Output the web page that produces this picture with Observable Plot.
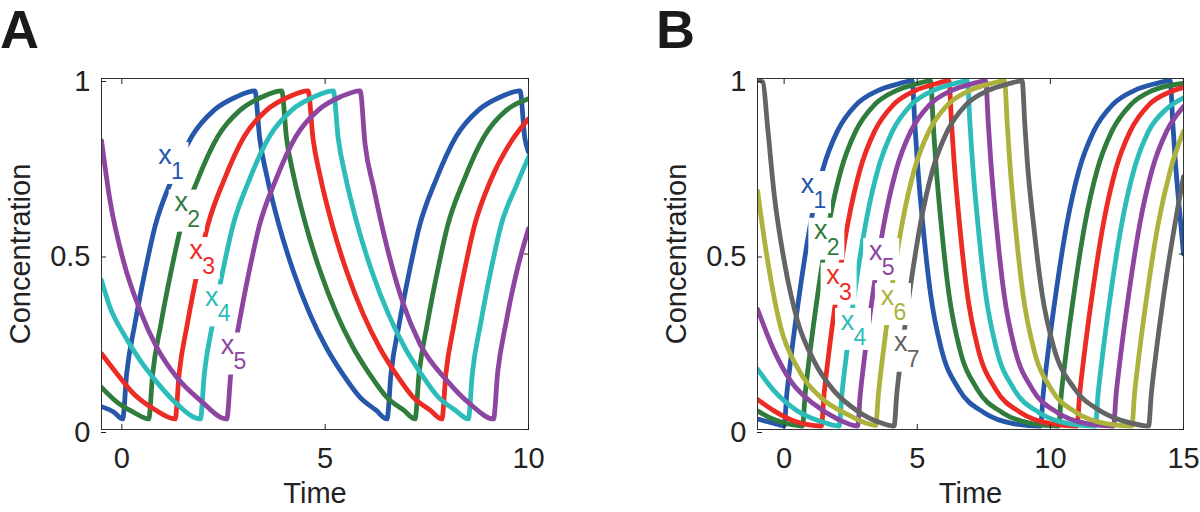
<!DOCTYPE html>
<html><head><meta charset="utf-8">
<script src="https://cdn.jsdelivr.net/npm/d3@7"></script>
<script src="https://cdn.jsdelivr.net/npm/@observablehq/plot@0.6"></script>
<style>
body{margin:0;background:#fff;}
#wrap{position:relative;width:1200px;height:512px;overflow:hidden;background:#fff;}
#wrap svg{position:absolute;top:0;}
</style></head><body><div id="wrap"></div>
<script>
// ---------- data ----------
const yTicks = [0, 0.5, 1];
const xTicksA = [0, 5, 10];
const xTicksB = [0, 5, 10, 15];
const xLabel = "Time";
const yLabel = "Concentration";

const namesA = ["x1", "x2", "x3", "x4", "x5"];
const colorsA = ["#2657ab", "#2f7c3c", "#ec2b25", "#2cbcb9", "#8c45a0"];
const A_x1 = [[-0.5,0.065],[-0.2,0.05],[0.02,0.03],[0.12,0.16],[0.32,0.3],[0.57,0.45],[0.82,0.58],[1.22,0.71],[1.72,0.835],[2.27,0.91],[2.82,0.948],[3.27,0.965],[3.39,0.83],[3.57,0.72],[3.87,0.58],[4.22,0.45],[4.62,0.33],[5.02,0.235],[5.42,0.16],[5.87,0.09],[6.25,0.055],[6.52,0.03],[6.62,0.16],[6.82,0.3],[7.07,0.45],[7.32,0.58],[7.72,0.71],[8.22,0.835],[8.77,0.91],[9.32,0.948],[9.79,0.965],[9.91,0.83],[10,0.79]];
const A_x2 = [[-0.5,0.12],[-0.12,0.078],[0.29,0.049],[0.66,0.03],[0.76,0.16],[0.96,0.3],[1.21,0.45],[1.46,0.58],[1.86,0.71],[2.36,0.835],[2.91,0.91],[3.46,0.948],[3.93,0.965],[4.05,0.83],[4.23,0.72],[4.53,0.58],[4.88,0.45],[5.28,0.33],[5.68,0.235],[6.08,0.16],[6.53,0.09],[6.93,0.055],[7.21,0.03],[7.31,0.16],[7.51,0.3],[7.76,0.45],[8.01,0.58],[8.41,0.71],[8.91,0.835],[9.46,0.91],[10,0.942]];
const A_x3 = [[-0.5,0.216],[-0.12,0.159],[0.29,0.102],[0.78,0.059],[1.31,0.03],[1.41,0.16],[1.61,0.3],[1.86,0.45],[2.11,0.58],[2.51,0.71],[3.01,0.835],[3.56,0.91],[4.11,0.948],[4.58,0.965],[4.7,0.83],[4.88,0.72],[5.18,0.58],[5.53,0.45],[5.93,0.33],[6.33,0.235],[6.73,0.16],[7.18,0.09],[7.58,0.055],[7.87,0.03],[7.97,0.16],[8.17,0.3],[8.42,0.45],[8.67,0.58],[9.07,0.71],[9.57,0.82],[10,0.885]];
const A_x4 = [[-0.5,0.425],[-0.29,0.348],[0.04,0.273],[0.45,0.197],[0.86,0.135],[1.35,0.073],[1.93,0.03],[2.03,0.16],[2.23,0.3],[2.48,0.45],[2.73,0.58],[3.13,0.71],[3.63,0.835],[4.18,0.91],[4.73,0.948],[5.2,0.965],[5.32,0.83],[5.5,0.72],[5.8,0.58],[6.15,0.45],[6.55,0.33],[6.95,0.235],[7.35,0.16],[7.8,0.09],[8.2,0.055],[8.52,0.03],[8.62,0.16],[8.82,0.3],[9.07,0.45],[9.32,0.58],[9.72,0.7],[10,0.776]];
const A_x5 = [[-0.5,0.823],[-0.29,0.652],[0.04,0.48],[0.45,0.339],[0.86,0.234],[1.35,0.149],[1.93,0.083],[2.58,0.03],[2.68,0.16],[2.88,0.3],[3.13,0.45],[3.38,0.58],[3.78,0.71],[4.28,0.835],[4.83,0.91],[5.38,0.948],[5.86,0.965],[5.98,0.814],[6.19,0.69],[6.52,0.52],[6.92,0.358],[7.33,0.244],[7.99,0.14],[8.56,0.073],[9.14,0.03],[9.24,0.16],[9.44,0.3],[9.69,0.44],[10,0.572]];
const labelsA = [[1.06,0.778],[1.46,0.642],[1.83,0.507],[2.21,0.372],[2.6,0.235]];

const namesB = ["x1", "x2", "x3", "x4", "x5", "x6", "x7"];
const colorsB = ["#2657ab", "#2f7c3c", "#ec2b25", "#2cbcb9", "#8c45a0", "#adb23c", "#636466"];
const B_x1 = [[-1,0.03],[-0.4,0.018],[0,0.01],[0.1,0.1],[0.25,0.2],[0.6,0.4],[1,0.59],[1.45,0.74],[2,0.85],[2.7,0.925],[3.5,0.965],[4.3,0.985],[4.81,0.993],[4.91,0.87],[5,0.767],[5.22,0.576],[5.5,0.386],[5.91,0.228],[6.56,0.115],[7.51,0.048],[8.61,0.017],[9.63,0.01],[9.73,0.1],[9.88,0.2],[10.23,0.4],[10.63,0.59],[11.08,0.74],[11.63,0.85],[12.33,0.925],[13.13,0.965],[13.93,0.985],[14.5,0.993],[14.6,0.87],[14.69,0.767],[14.91,0.576],[15,0.5]];
const B_x2 = [[-1,0.053],[-0.4,0.029],[0.2,0.015],[0.69,0.01],[0.79,0.1],[0.94,0.2],[1.29,0.4],[1.69,0.59],[2.14,0.74],[2.69,0.85],[3.39,0.925],[4.19,0.965],[4.99,0.985],[5.5,0.993],[5.6,0.87],[5.69,0.767],[5.91,0.576],[6.19,0.386],[6.6,0.228],[7.25,0.115],[8.2,0.048],[9.3,0.017],[10.31,0.01],[10.41,0.1],[10.56,0.2],[10.91,0.4],[11.31,0.59],[11.76,0.74],[12.31,0.85],[13.01,0.925],[13.81,0.965],[14.61,0.982],[15,0.986]];
const B_x3 = [[-1,0.086],[-0.375,0.053],[0.375,0.024],[1.4,0.01],[1.5,0.1],[1.65,0.2],[2,0.4],[2.4,0.59],[2.85,0.74],[3.4,0.85],[4.1,0.925],[4.9,0.965],[5.7,0.985],[6.19,0.993],[6.29,0.87],[6.38,0.767],[6.6,0.576],[6.88,0.386],[7.29,0.228],[7.94,0.115],[8.89,0.048],[9.99,0.017],[11,0.01],[11.1,0.1],[11.25,0.2],[11.6,0.4],[12,0.59],[12.45,0.74],[13,0.85],[13.7,0.925],[14.5,0.962],[15,0.975]];
const B_x4 = [[-1,0.172],[-0.375,0.11],[0.5,0.053],[1.3,0.025],[2.07,0.01],[2.17,0.1],[2.32,0.2],[2.67,0.4],[3.07,0.59],[3.52,0.74],[4.07,0.85],[4.77,0.925],[5.57,0.965],[6.37,0.985],[6.88,0.993],[6.98,0.87],[7.07,0.767],[7.29,0.576],[7.57,0.386],[7.98,0.228],[8.63,0.115],[9.58,0.048],[10.68,0.017],[11.69,0.01],[11.79,0.1],[11.94,0.2],[12.29,0.4],[12.69,0.59],[13.14,0.74],[13.69,0.85],[14.39,0.915],[15,0.945]];
const B_x5 = [[-1,0.343],[-0.375,0.224],[0.25,0.138],[1.125,0.072],[2,0.03],[2.76,0.01],[2.86,0.1],[3.01,0.2],[3.36,0.4],[3.76,0.59],[4.21,0.74],[4.76,0.85],[5.46,0.925],[6.26,0.965],[7.06,0.985],[7.57,0.993],[7.67,0.87],[7.76,0.767],[7.98,0.576],[8.26,0.386],[8.67,0.228],[9.32,0.115],[10.27,0.048],[11.37,0.017],[12.37,0.01],[12.47,0.1],[12.62,0.2],[12.97,0.4],[13.37,0.59],[13.82,0.74],[14.37,0.85],[15,0.92]];
const B_x6 = [[-1,0.68],[-0.62,0.481],[-0.125,0.29],[0.5,0.176],[1.38,0.091],[2.38,0.043],[3.44,0.012],[3.54,0.1],[3.69,0.2],[4.04,0.4],[4.44,0.59],[4.89,0.74],[5.44,0.85],[6.14,0.925],[6.94,0.965],[7.74,0.985],[8.28,0.993],[8.38,0.87],[8.47,0.767],[8.69,0.576],[8.97,0.386],[9.38,0.228],[10.03,0.115],[10.98,0.048],[12.08,0.017],[13.06,0.01],[13.16,0.1],[13.31,0.2],[13.66,0.4],[14.06,0.59],[14.51,0.74],[15,0.85]];
const B_x7 = [[-1,0.995],[-0.8,0.99],[-0.62,0.861],[-0.375,0.671],[0,0.481],[0.5,0.31],[1.125,0.195],[1.875,0.11],[2.75,0.053],[3.63,0.019],[4.13,0.01],[4.23,0.1],[4.38,0.2],[4.73,0.4],[5.13,0.59],[5.58,0.74],[6.13,0.85],[6.83,0.925],[7.63,0.965],[8.43,0.985],[8.94,0.993],[9.04,0.87],[9.13,0.767],[9.38,0.576],[9.69,0.386],[10.13,0.233],[10.88,0.119],[11.88,0.053],[13,0.019],[13.69,0.01],[13.79,0.1],[13.94,0.2],[14.29,0.4],[14.69,0.59],[15,0.72]];
const labelsB = [[0.88,0.695],[1.38,0.562],[1.84,0.434],[2.38,0.305],[3.44,0.504],[3.88,0.376],[4.38,0.243]];

// ---------- drawing ----------
const FONT = "'Liberation Sans', Arial, Helvetica, sans-serif";
const fmt = d => String(d);

function panel({letter, names, colors, series, labels, xDomain, xTicks, left, width, marginLeft, marginRight}) {
  const data = names.flatMap((n, i) => series[i].map(([t, c]) => ({series: n, t, c})));
  const lab = labels.map(([t, y], i) => ({t, y, name: names[i], digit: names[i].slice(1)}));
  const svg = Plot.plot({
    width, height: 512, marginLeft, marginRight, marginTop: 78, marginBottom: 83,
    style: {fontFamily: FONT, fontSize: "28px", color: "#222", background: "transparent", overflow: "visible"},
    x: {domain: xDomain},
    y: {domain: [0, 1]},
    color: {domain: names, range: colors},
    marks: [
      Plot.line(data, {x: "t", y: "c", z: "series", stroke: "series", strokeWidth: 4.8, curve: "monotone-x", clip: true}),
      Plot.rect(lab, {x1: "t", x2: "t", y1: "y", y2: "y", fill: "white", insetLeft: -12, insetRight: -24, insetTop: -14, insetBottom: -28}),
      Plot.text(lab, {x: "t", y: "y", text: () => "x", fill: "name", fontSize: 27, dy: -1.5}),
      Plot.text(lab, {x: "t", y: "y", text: "digit", fill: "name", fontSize: 23, textAnchor: "start", dx: 6, dy: 15}),
      Plot.frame({stroke: "#333", strokeWidth: 1}),
      Plot.axisX({anchor: "bottom", ticks: xTicks, tickFormat: fmt, tickSize: -5, tickPadding: 23, label: null, fontSize: 29}),
      Plot.axisX({anchor: "top", ticks: xTicks, tickSize: -5, tickFormat: () => "", label: null}),
      Plot.axisY({anchor: "left", ticks: yTicks, tickFormat: fmt, tickSize: -5, tickPadding: 16, label: null, fontSize: 29, dy: 3}),
      Plot.axisY({anchor: "right", ticks: yTicks, tickSize: -5, tickFormat: () => "", label: null}),
      Plot.text([xLabel], {frameAnchor: "bottom", textAnchor: "middle", lineAnchor: "middle", dy: 64, fontSize: 29}),
      Plot.text([yLabel], {frameAnchor: "left", textAnchor: "middle", lineAnchor: "middle", rotate: -90, dx: -81, fontSize: 29}),
      Plot.text([letter], {frameAnchor: "top-left", textAnchor: "middle", lineAnchor: "middle", dx: -82, dy: -48, fontSize: 54, fontWeight: "bold", fill: "#1a1a1a"})
    ]
  });
  svg.style.left = left + "px";
  document.getElementById("wrap").appendChild(svg);
}

panel({letter: "A", names: namesA, colors: colorsA, series: [A_x1, A_x2, A_x3, A_x4, A_x5], labels: labelsA,
  xDomain: [-0.5, 10], xTicks: xTicksA, left: 0, width: 600, marginLeft: 101, marginRight: 72});
panel({letter: "B", names: namesB, colors: colorsB, series: [B_x1, B_x2, B_x3, B_x4, B_x5, B_x6, B_x7], labels: labelsB,
  xDomain: [-1, 15], xTicks: xTicksB, left: 600, width: 600, marginLeft: 157, marginRight: 17});
</script></body></html>
